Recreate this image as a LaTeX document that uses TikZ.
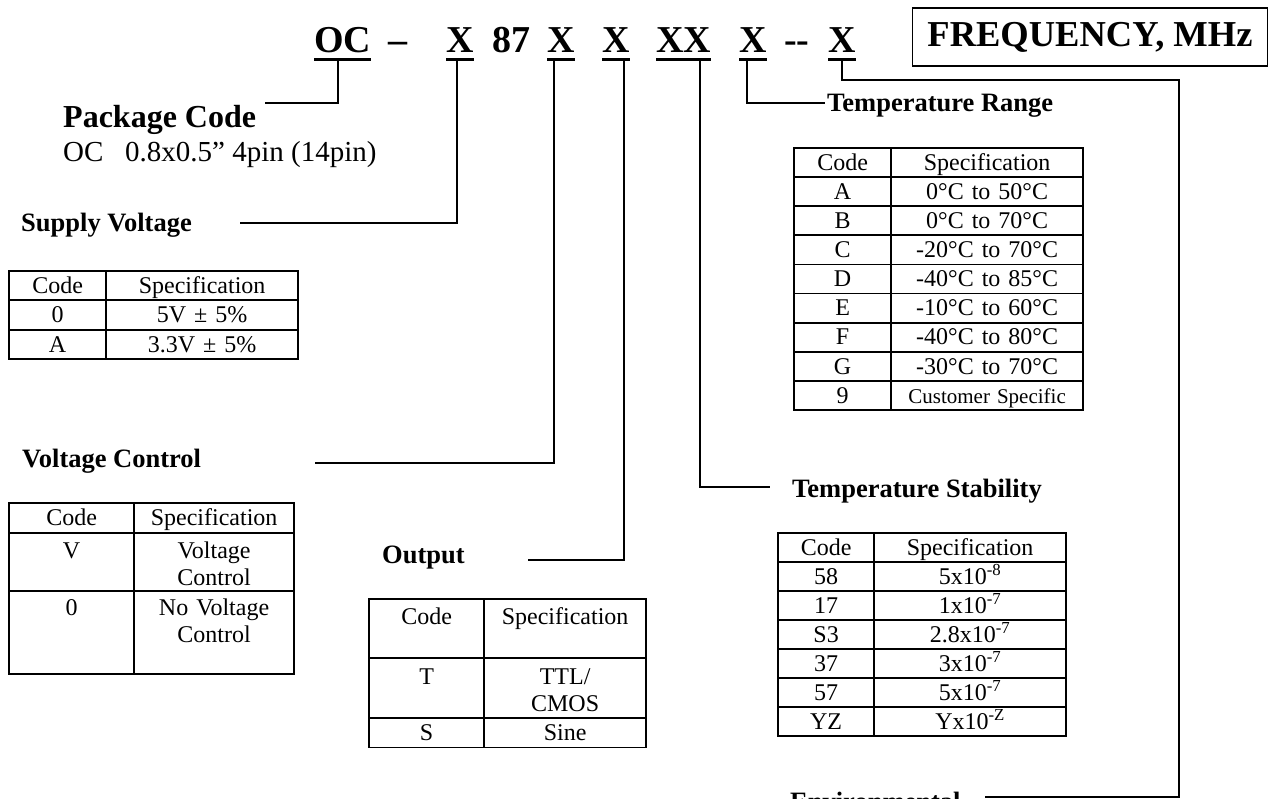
\documentclass[tikz,border=0pt]{standalone}
\usepackage{fontspec}
\setmainfont{Liberation Serif}
\usetikzlibrary{matrix}
\usetikzlibrary{positioning}
\newcommand\cellstrut{\rule[-4.5pt]{0pt}{24.5pt}}

\begin{document}
\begin{tikzpicture}[x=1pt,y=-1pt,
            code/.style={anchor=base west, inner sep=0pt, font=\fontsize{38}{40}\selectfont\bfseries},
            head/.style={anchor=base west, inner sep=0pt, font=\fontsize{26.5}{30}\selectfont\bfseries},
            uline/.style={line width=3pt},
            conn/.style={line width=1.6pt},
            spec/.style={%
            matrix of nodes,
            anchor=north west,
            inner sep=0pt,
            column sep=-1.8pt,
            row sep=-1.8pt,
            nodes={draw, line width=1.8pt, anchor=center, inner sep=0pt,
                   align=center, minimum height=29.3pt, execute at begin node=\cellstrut,
                   font=\fontsize{24}{27.6}\selectfont},
            },
            ]
\useasboundingbox (0,0) rectangle (1278,799);

% part number
\node[code] (oc) at (314,53) {OC};
\node[code] (dash) at (388,53) {--};
\node[code] (xsup) at (446,53) {X};
\node[code] (type) at (492,53) {87};
\node[code] (xctl) at (547,53) {X};
\node[code] (xout) at (602,53) {X};
\node[code] (xstab) at (656,53) {XX};
\node[code] (xrange) at (739,53) {X};
\node[code] (hyph) at (784,53) {-{}-};
\node[code] (xenv) at (828,53) {X};
\foreach \n in {oc,xsup,xctl,xout,xstab,xrange,xenv}
    \draw[uline] ([yshift=-6pt]\n.south west) -- ([yshift=-6pt]\n.south east);

\node[draw, line width=1.8pt, minimum width=355pt, minimum height=58pt, inner sep=0pt,
      font=\fontsize{36.5}{40}\selectfont\bfseries] (freq) at (1090,37) {FREQUENCY, MHz};

% package code
\node[anchor=base west, inner sep=0pt, font=\fontsize{32}{36}\selectfont\bfseries] (pkghd) at (63,128) {Package Code};
\node[anchor=base west, inner sep=0pt, font=\fontsize{29}{32}\selectfont] (pkgtxt) at (63,162) {OC\hspace{0.75em}0.8x0.5'' 4pin (14pin)};
\coordinate (pkgend) at (265,103);
\draw[conn] ([xshift=-4.5pt,yshift=-7pt]oc.south) |- (pkgend);

% supply voltage
\node[head] (suphd) at (21,232) {Supply Voltage};
\coordinate (supend) at (240,223);
\draw[conn] ([xshift=-2.7pt,yshift=-7pt]xsup.south) |- (supend);
\matrix (supply) [spec,
            column 1/.style={nodes={text width=97pt}},
            column 2/.style={nodes={text width=192pt}}] at (8,270)
{ Code & Specification \\
0 & 5V ± 5\% \\
A & 3.3V ± 5\% \\
};

% voltage control
\node[head] (volthd) at (22,468) {Voltage Control};
\coordinate (voltend) at (315,463);
\draw[conn] ([xshift=-6.7pt,yshift=-7pt]xctl.south) |- (voltend);
\matrix (volt) [spec,
            column 1/.style={nodes={text width=125pt}},
            column 2/.style={nodes={text width=160pt}},
            row 1/.style={nodes={minimum height=30pt}},
            row 2/.style={nodes={minimum height=58pt}},
            row 3/.style={nodes={minimum height=83pt}}] at (8,502)
{ Code & Specification \\
{V\\~} & {Voltage\\Control} \\
{0\\~\\~} & {No Voltage\\Control\\~} \\
};

% output
\node[head] (outhd) at (382,563) {Output};
\coordinate (outend) at (528,560);
\draw[conn] ([xshift=8.3pt,yshift=-7pt]xout.south) |- (outend);
\matrix (output) [spec,
            column 1/.style={nodes={text width=115pt}},
            column 2/.style={nodes={text width=162pt}},
            row 1/.style={nodes={minimum height=59pt}},
            row 2/.style={nodes={minimum height=60pt}}] at (368,598)
{ {Code\\~} & {Specification\\~} \\
{T\\~} & {TTL/\\CMOS} \\
S & Sine \\
};

% temperature range
\node[head] (rangehd) at (827,112) {Temperature Range};
\coordinate (rangeend) at (825,103);
\draw[conn] ([xshift=-5.7pt,yshift=-7pt]xrange.south) |- (rangeend);
\matrix (range) [spec,
            column 1/.style={nodes={text width=97pt}},
            column 2/.style={nodes={text width=192pt}},
            nodes={minimum height=29.1pt}] at (793,147)
{ Code & Specification \\
A & 0°C to 50°C \\
B & 0°C to 70°C \\
C & -20°C to 70°C \\
D & -40°C to 85°C \\
E & -10°C to 60°C \\
F & -40°C to 80°C \\
G & -30°C to 70°C \\
9 & |[font=\fontsize{21}{24}\selectfont]| Customer Specific \\
};

% temperature stability
\node[head] (stabhd) at (792,498) {Temperature Stability};
\coordinate (stabend) at (770,487);
\draw[conn] ([xshift=16.6pt,yshift=-7pt]xstab.south) |- (stabend);
\matrix (stab) [spec,
            column 1/.style={nodes={text width=96pt}},
            column 2/.style={nodes={text width=192pt}},
            nodes={minimum height=29pt}] at (777,532)
{ Code & Specification \\
58 & 5x10\textsuperscript{-8} \\
17 & 1x10\textsuperscript{-7} \\
S3 & 2.8x10\textsuperscript{-7} \\
37 & 3x10\textsuperscript{-7} \\
57 & 5x10\textsuperscript{-7} \\
YZ & Yx10\textsuperscript{-Z} \\
};

% environmental
\node[head] (envhd) at (790,810) {Environmental};
\coordinate (envturn) at (1179,80);
\coordinate (envend) at (985,797);
\draw[conn] ([yshift=-7pt]xenv.south) |- (envturn) |- (envend);
\end{tikzpicture}
\end{document}
